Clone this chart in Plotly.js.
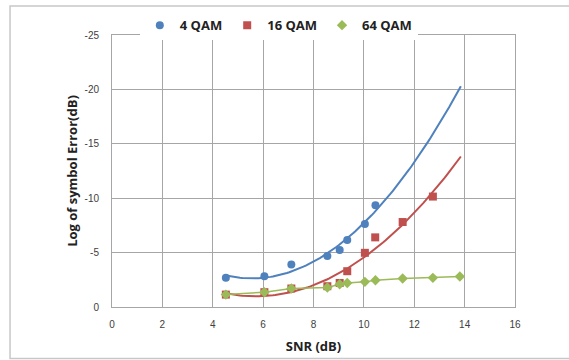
<!DOCTYPE html>
<html>
<head>
<meta charset="utf-8">
<script src="https://cdn.plot.ly/plotly-3.0.1.min.js"></script>
<style>html,body{margin:0;padding:0;background:#fff;}#chart{width:569px;height:360px;}</style>
</head>
<body>
<div id="chart"></div>
<script>
// SNR (dB) values
const snr4 = [4.52, 6.05, 7.12, 8.55, 9.04, 9.34, 10.04, 10.46];
const err4 = [-2.68, -2.83, -3.91, -4.68, -5.23, -6.15, -7.63, -9.35];

const snr16 = [4.52, 6.05, 7.12, 8.55, 9.04, 9.34, 10.04, 10.45, 11.54, 12.74];
const err16 = [-1.14, -1.36, -1.70, -1.91, -2.21, -3.29, -4.98, -6.40, -7.81, -10.15];

const snr64 = [4.52, 6.05, 7.12, 8.55, 9.04, 9.34, 10.04, 10.46, 11.54, 12.74, 13.81];
const err64 = [-1.14, -1.36, -1.70, -1.79, -2.09, -2.21, -2.31, -2.46, -2.62, -2.68, -2.80];

const xTicks = [0, 2, 4, 6, 8, 10, 12, 14, 16];
const yTicks = [0, -5, -10, -15, -20, -25];
const trendEnd = 13.85;

// least-squares polynomial trendline (like Excel's polynomial trendline)
function polyfit(xs, ys, order) {
  const n = order + 1;
  const A = Array.from({length: n}, () => new Array(n + 1).fill(0));
  for (let k = 0; k < xs.length; k++) {
    for (let i = 0; i < n; i++) {
      for (let j = 0; j < n; j++) A[i][j] += Math.pow(xs[k], i + j);
      A[i][n] += ys[k] * Math.pow(xs[k], i);
    }
  }
  for (let i = 0; i < n; i++) {
    let p = i;
    for (let r = i + 1; r < n; r++) if (Math.abs(A[r][i]) > Math.abs(A[p][i])) p = r;
    [A[i], A[p]] = [A[p], A[i]];
    for (let r = 0; r < n; r++) {
      if (r === i) continue;
      const f = A[r][i] / A[i][i];
      for (let c = i; c <= n; c++) A[r][c] -= f * A[i][c];
    }
  }
  return A.map((row, i) => row[n] / row[i]);
}
function trend(xs, ys, order, x0, x1) {
  const c = polyfit(xs, ys, order);
  const tx = [], ty = [];
  for (let i = 0; i <= 100; i++) {
    const x = x0 + (x1 - x0) * i / 100;
    tx.push(x);
    ty.push(c.reduce((s, ci, p) => s + ci * Math.pow(x, p), 0));
  }
  return {tx, ty};
}

const blue = '#4F81BD', red = '#C0504D', green = '#9BBB59';
const t4 = trend(snr4, err4, 2, snr4[0], trendEnd);
const t16 = trend(snr16, err16, 2, snr16[0], trendEnd);

const traces = [
  {x: t4.tx, y: t4.ty, mode: 'lines', line: {color: blue, width: 2}, showlegend: false, hoverinfo: 'skip'},
  {x: t16.tx, y: t16.ty, mode: 'lines', line: {color: red, width: 2}, showlegend: false, hoverinfo: 'skip'},
  {x: snr64, y: err64, mode: 'lines', line: {color: green, width: 1.5}, showlegend: false, hoverinfo: 'skip'},
  {x: snr4, y: err4, mode: 'markers', name: '4 QAM', marker: {color: blue, size: 8, symbol: 'circle'}},
  {x: snr16, y: err16, mode: 'markers', name: '16 QAM', marker: {color: red, size: 8, symbol: 'square'}},
  {x: snr64, y: err64, mode: 'markers', name: '64 QAM', marker: {color: green, size: 8, symbol: 'diamond'}}
];

const layout = {
  width: 569, height: 360,
  margin: {l: 112, r: 54, t: 35, b: 53, autoexpand: false},
  paper_bgcolor: '#fff', plot_bgcolor: '#fff',
  font: {family: 'Liberation Sans, Arial, sans-serif', size: 10, color: '#404040'},
  showlegend: true,
  legend: {orientation: 'h', xref: 'container', yref: 'container', x: 0.49, xanchor: 'center',
           y: 0.93, yanchor: 'middle', itemwidth: 30, tracegroupgap: 0, itemsizing: 'trace',
           font: {family: 'Open Sans, sans-serif', size: 13, color: '#222', weight: 'bold'}},
  xaxis: {
    range: [0, 16], tickvals: xTicks, ticktext: xTicks.map(String),
    showgrid: true, gridcolor: '#a6a6a6', gridwidth: 1,
    zeroline: false, showline: true, linecolor: '#a6a6a6', mirror: true,
    ticks: '', ticklabelstandoff: 8,
    title: {text: 'SNR (dB)', font: {family: 'Open Sans, sans-serif', size: 13, color: '#222', weight: 'bold'}, standoff: 12}
  },
  yaxis: {
    range: [0, -25], tickvals: yTicks, ticktext: yTicks.map(String),
    showgrid: true, gridcolor: '#a6a6a6', gridwidth: 1,
    zeroline: false, showline: true, linecolor: '#a6a6a6', mirror: true,
    ticks: '', ticklabelstandoff: 10,
    title: {text: 'Log of symbol Error(dB)', font: {family: 'Open Sans, sans-serif', size: 13, color: '#222', weight: 'bold'}, standoff: 3}
  },
  shapes: [
    {type: 'rect', xref: 'paper', yref: 'paper', x0: -0.253, x1: 1.3, y0: -0.189, y1: 1.107,
     line: {color: '#c8c8c8', width: 1.5}, fillcolor: 'rgba(0,0,0,0)', layer: 'below'}
  ]
};

Plotly.newPlot('chart', traces, layout, {displayModeBar: false, staticPlot: true});
</script>
</body>
</html>
